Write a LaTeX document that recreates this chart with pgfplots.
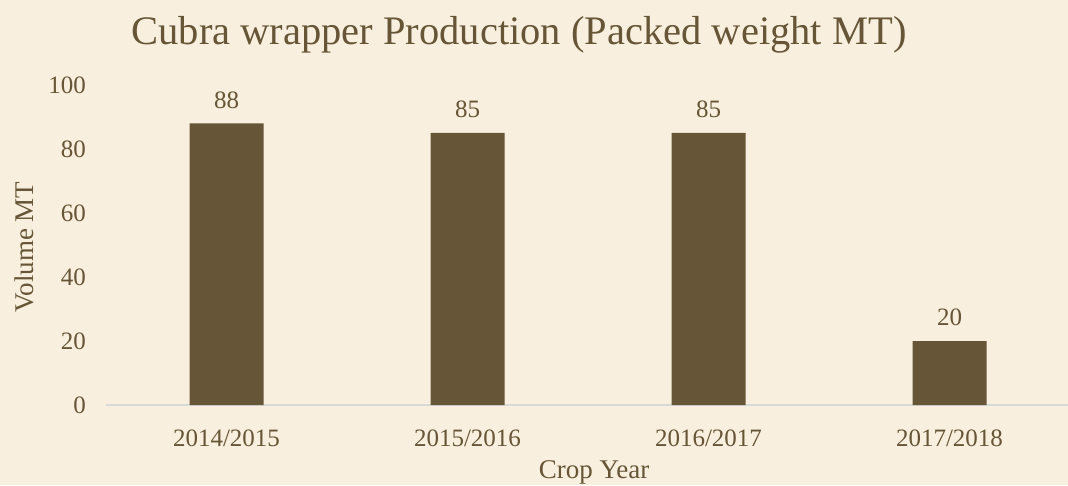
\documentclass[border=0pt]{standalone}
\usepackage{fontspec}
\setmainfont{Liberation Serif}
\usepackage{pgfplots}
\pgfplotsset{compat=1.18}
\definecolor{bgc}{HTML}{F8EFDE}
\definecolor{barc}{HTML}{665637}
\definecolor{txtc}{HTML}{665637}
\definecolor{linec}{HTML}{D9D9D9}
\begin{document}
\begin{tikzpicture}[x=1pt,y=1pt]
\fill[bgc] (0,0) rectangle (1068,485);
\useasboundingbox (0,0) rectangle (1068,485);
\begin{axis}[
  at={(106pt,80pt)}, anchor=south west,
  width=964pt, height=320pt, scale only axis,
  xmin=-0.5, xmax=3.5, ymin=0, ymax=100,
  ybar, bar width=74pt,
  axis x line*=bottom, axis y line*=left,
  y axis line style={draw=none},
  x axis line style={-, draw=linec, line width=1.5pt},
  major tick length=0pt, tick style={draw=none},
  xtick={0,1,2,3},
  xticklabels={2014/2015,2015/2016,2016/2017,2017/2018},
  ytick={0,20,40,60,80,100},
  /pgf/number format/assume math mode=true,
  ticklabel style={font=\fontsize{25}{28}\selectfont, text=txtc},
  xticklabel style={anchor=base, inner sep=0pt, yshift=-41pt},
  yticklabel style={anchor=east, inner sep=0pt, xshift=-20pt},
  nodes near coords,
  nodes near coords style={font=\fontsize{25}{28}\selectfont, text=txtc, anchor=base, inner sep=0pt, yshift=15pt},
  clip=false,
]
\addplot[fill=barc, draw=none] coordinates {(0,88) (1,85) (2,85) (3,20)};
\end{axis}
\node[anchor=base, text=txtc, font=\fontsize{40.5}{44}\selectfont] at (519,440) {Cubra wrapper Production (Packed weight MT)};
\node[anchor=base, text=txtc, font=\fontsize{27}{30}\selectfont] at (594,7) {Crop Year};
\node[rotate=90, text=txtc, font=\fontsize{27}{30}\selectfont, inner sep=0pt] at (24,238) {Volume MT};
\end{tikzpicture}
\end{document}
